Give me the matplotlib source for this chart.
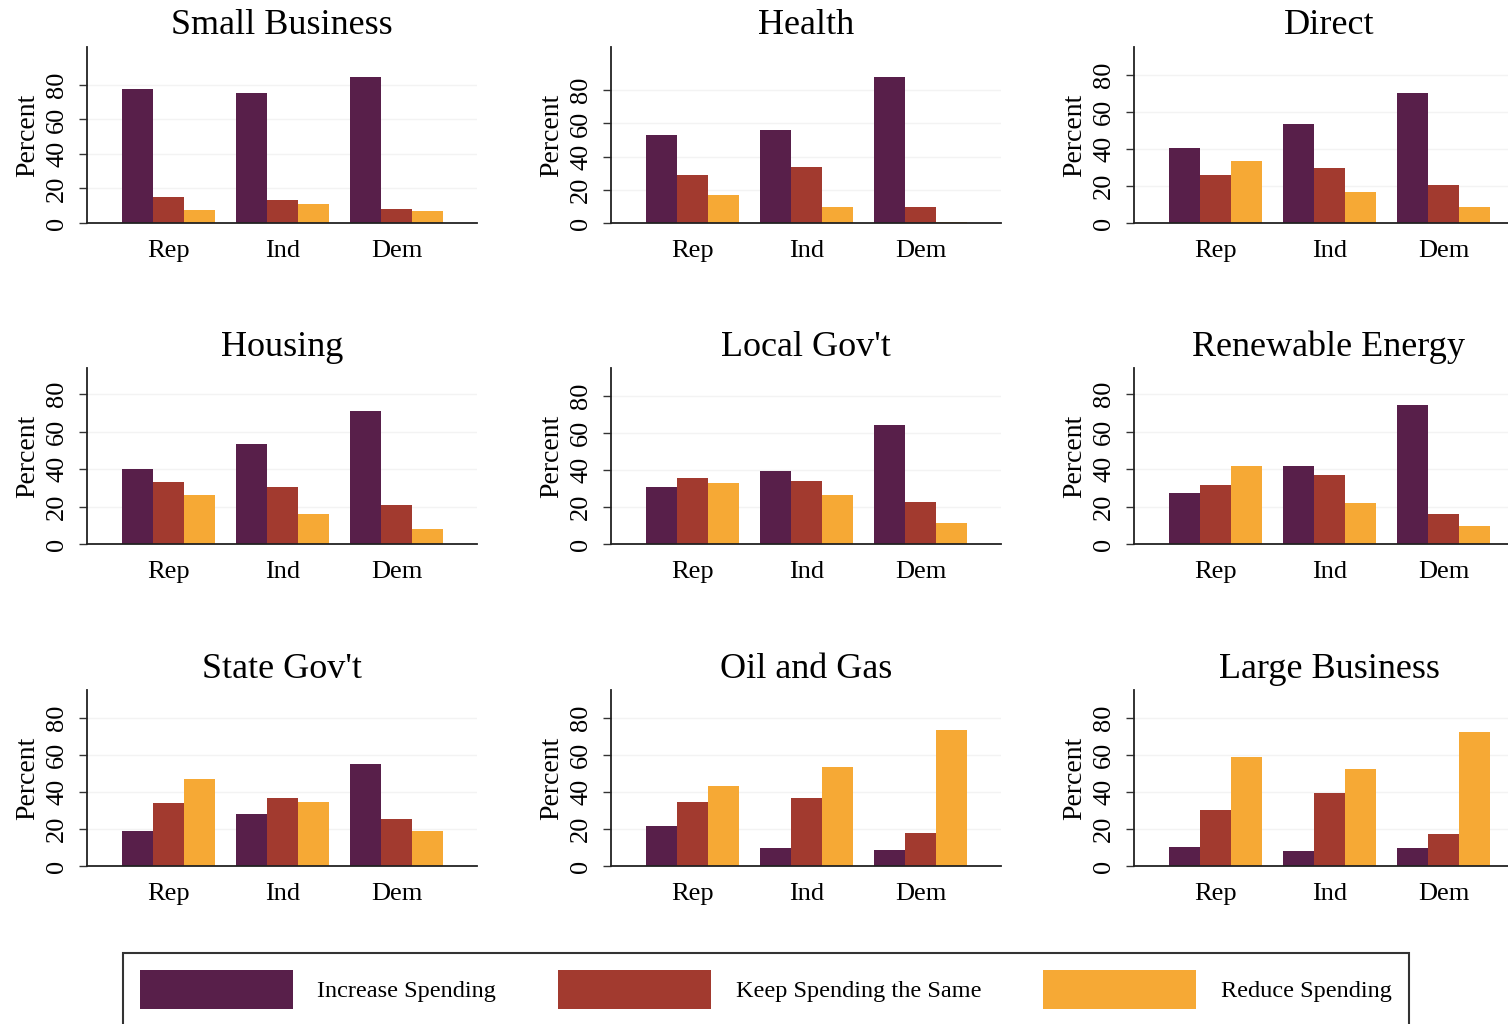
import numpy as np
import matplotlib
matplotlib.use('Agg')
import matplotlib.pyplot as plt

plt.rcParams['font.family'] = ['Liberation Serif', 'DejaVu Serif']

# data (percent)
parties = ['Rep', 'Ind', 'Dem']
panels = ['Small Business', 'Health', 'Direct',
          'Housing', "Local Gov't", 'Renewable Energy',
          "State Gov't", 'Oil and Gas', 'Large Business']
increase = [[77.5, 75.2, 84.8], [53.2, 55.8, 88.2], [40.4, 53.2, 70.0],
            [40.2, 53.3, 70.9], [30.9, 39.3, 64.5], [27.0, 41.4, 74.4],
            [18.7, 28.2, 55.3], [21.6, 9.6, 8.4], [10.5, 8.2, 9.8]]
same = [[14.8, 13.6, 8.3], [28.8, 33.6, 9.6], [25.9, 29.7, 20.6],
        [32.9, 30.5, 20.7], [35.5, 34.2, 22.9], [31.5, 36.7, 15.9],
        [34.2, 36.7, 25.3], [34.5, 36.7, 17.6], [30.0, 39.3, 17.5]]
reduce = [[7.3, 11.3, 6.7], [17.0, 9.4, 0.8], [33.3, 16.8, 8.5],
          [26.2, 15.8, 8.0], [32.9, 26.2, 11.6], [41.4, 21.9, 9.8],
          [46.7, 34.4, 18.9], [43.3, 53.6, 73.3], [58.7, 52.4, 72.2]]
ytop = [102, 106, 95, 94, 95, 94, 95, 95, 95]

labels = ['Increase Spending', 'Keep Spending the Same', 'Reduce Spending']
colors = ['#581f4a', '#a23a2f', '#f6a935']

W, H = 1508, 1024
fig = plt.figure(figsize=(W / 100, H / 100), dpi=100)

col_left = [87, 611, 1134]
row_zero = [223, 544, 866]
ax_w, ax_h = 390, 176

x = np.arange(len(parties))
bw = 0.272
handles = None
for i, name in enumerate(panels):
    r, c = divmod(i, 3)
    ax = fig.add_axes([col_left[c] / W, 1 - row_zero[r] / H, ax_w / W, ax_h / H])
    series = [increase[i], same[i], reduce[i]]
    bars = []
    for k, vals in enumerate(series):
        b = ax.bar(x + (k - 1) * bw, vals, width=bw, color=colors[k], zorder=2)
        bars.append(b)
    handles = bars
    ax.set_xlim(-0.715, 2.706)
    ax.set_ylim(0, ytop[i])
    ax.set_yticks([0, 20, 40, 60, 80])
    ax.set_yticklabels(['0', '20', '40', '60', '80'], rotation=90, va='center')
    ax.set_xticks(x)
    ax.set_xticklabels(parties)
    ax.tick_params(axis='x', length=0, pad=12, labelsize=19)
    ax.tick_params(axis='y', length=6, width=1, pad=7.5, labelsize=19, color='#333333')
    ax.grid(axis='y', color='#f3f3f3', lw=1, zorder=0)
    for s in ['top', 'right']:
        ax.spines[s].set_visible(False)
    for s in ['left', 'bottom']:
        ax.spines[s].set_linewidth(1.3)
        ax.spines[s].set_color('#222222')
    ax.set_ylabel('Percent', fontsize=20, labelpad=4)
    ax.set_title(name, fontsize=26, pad=9)

leg = fig.legend(handles, labels, loc='upper left',
                 bbox_to_anchor=(123 / W, 1 - 953 / H), borderaxespad=0, ncol=3,
                 fontsize=17.5, handlelength=6.3, handleheight=2.1,
                 handletextpad=1.0, columnspacing=2.55, borderpad=0.7,
                 fancybox=False, frameon=True)
leg.get_frame().set_edgecolor('black')
leg.get_frame().set_linewidth(1.5)

fig.savefig('out.png', dpi=100)
